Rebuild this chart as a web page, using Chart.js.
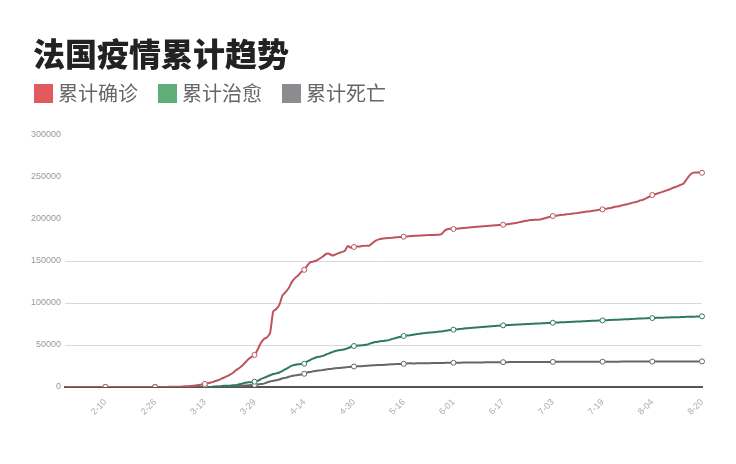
<!DOCTYPE html>
<html>
<head>
<meta charset="utf-8">
<script src="https://cdn.jsdelivr.net/npm/chart.js"></script>
<style>
  body { margin: 0; background: #fff; font-family: "Noto Sans CJK SC", "Noto Sans", sans-serif; }
  #wrap { position: relative; width: 736px; height: 464px; }
  #title { position: absolute; left: 33px; top: 36px; font-size: 32px; line-height: 32px; font-weight: 900; color: #222; }
  #legend { position: absolute; left: 34px; top: 83px; display: flex; font-size: 20px; line-height: 20px; color: #666; }
  .item { display: flex; align-items: center; margin-right: 20px; }
  .box { width: 19px; height: 19px; margin-right: 5px; }
</style>
</head>
<body>
<div id="wrap">
  <canvas id="c"></canvas>
  <div id="title">法国疫情累计趋势</div>
  <div id="legend"></div>
</div>
<script>
// 法国疫情累计数据 1-28 ~ 8-20（逐日）
const startDate = new Date(2020, 0, 28);
const dayCount = 206;
const dates = [];
for (let i = 0; i < dayCount; i++) {
  const d = new Date(startDate.getFullYear(), startDate.getMonth(), startDate.getDate() + i);
  dates.push((d.getMonth() + 1) + '-' + String(d.getDate()).padStart(2, '0'));
}

const seriesNames = ['累计确诊', '累计治愈', '累计死亡'];

const confirmed = [
  4,5,5,6,6,6,6,6,6,6,
  6,11,11,11,11,11,11,11,12,12,
  12,12,12,12,12,12,12,12,14,18,
  38,57,100,130,191,212,285,423,653,949,
  1126,1412,1784,2281,2876,3661,4499,5423,6633,7730,
  9134,10995,12612,14459,16689,19856,22304,25233,29155,32964,
  35800,38200,44550,52128,56989,59105,64338,89953,92839,98010,
  109069,112950,117749,124869,129654,132591,136779,139500,144800,148600,
  149300,150600,153000,155400,158300,158700,156500,157800,159300,160600,
  162000,167800,165800,166700,167300,167400,168000,168300,168400,171500,
  174200,175800,176600,177000,177300,177600,178000,178300,178600,178900,
  179200,179500,179800,180100,180300,180500,180700,180900,181000,181100,
  181300,181600,185500,187800,188300,188100,188500,188800,189200,189500,
  189900,190200,190500,190800,191100,191400,191700,192000,192400,192700,
  193000,193200,193500,194000,194600,195300,196000,196800,197600,198300,
  198700,199000,199200,199500,200500,201500,202500,203500,203900,204400,
  204900,205400,205800,206300,206700,207200,207800,208300,208800,209300,
  209900,210400,211000,211500,212000,212700,213500,214500,215000,216000,
  217000,217500,218800,219800,220500,222000,223000,224500,226500,228500,
  229500,230800,232000,233300,234500,236000,237500,238800,240500,242000,
  247000,252000,255000,255300,255300,255000
];

const recovered = [
  0,0,0,0,0,0,0,0,0,0,
  0,0,0,0,0,2,2,2,4,4,
  4,4,4,4,4,4,4,4,11,11,
  11,11,12,12,12,12,12,12,12,12,
  12,12,12,12,12,12,12,12,602,602,
  602,1587,1587,1587,2206,2206,3281,3900,4948,5700,
  5700,6300,7200,9400,10900,12400,14000,15400,16200,17300,
  19300,21200,23400,25500,26400,27200,27500,27700,30500,32400,
  34000,35500,36100,37000,38700,40100,41500,42900,43700,44300,
  44900,46200,47600,48800,49200,49500,49800,50200,51600,52700,
  53500,54100,54700,55200,55500,56800,57900,58900,59900,60700,
  61200,61700,62300,62900,63500,63900,64300,64600,64900,65300,
  65800,66200,66700,67300,67800,68200,68600,69000,69400,69800,
  70200,70500,70800,71100,71400,71700,72000,72300,72600,72900,
  73200,73400,73600,73800,74000,74200,74400,74600,74800,75000,
  75200,75400,75600,75700,75900,76100,76300,76500,76700,76900,
  77100,77200,77400,77600,77800,78000,78100,78300,78500,78700,
  78800,79000,79200,79300,79500,79700,79900,80000,80200,80400,
  80600,80700,80900,81100,81300,81500,81600,81800,82000,82100,
  82200,82400,82500,82600,82800,82900,83000,83100,83200,83400,
  83500,83600,83700,83800,84000,84100
];

const deaths = [
  0,0,0,0,0,0,0,0,0,0,
  0,0,0,0,0,0,0,0,1,1,
  1,1,1,1,1,1,1,1,1,2,
  2,2,2,2,3,4,4,6,9,16,
  19,30,33,48,61,79,91,127,148,175,
  264,372,450,562,674,860,1100,1331,1696,1995,
  2314,2606,3024,3523,4032,5387,6507,7560,8078,8911,
  10328,10869,12210,13197,13832,14393,14967,15729,17167,17920,
  18681,19323,19718,20265,20796,21340,21856,22245,22614,22856,
  23293,23660,24087,24376,24594,24760,24895,25201,25531,25809,
  25987,26230,26310,26380,26643,26991,27074,27425,27529,27625,
  28108,28239,28022,28132,28215,28289,28332,28367,28432,28530,
  28596,28662,28714,28771,28802,28833,28940,28943,29021,29065,
  29111,29142,29155,29209,29296,29319,29346,29407,29436,29439,
  29547,29575,29603,29617,29640,29663,29720,29734,29752,29778,
  29781,29813,29843,29861,29864,29875,29884,29893,29920,29936,
  29966,29979,29982,29996,30004,30007,30010,30029,30064,30092,
  30120,30138,30138,30152,30165,30172,30177,30182,30192,30209,
  30223,30238,30254,30265,30268,30268,30268,30294,30294,30296,
  30305,30308,30324,30327,30340,30354,30371,30388,30406,30410,
  30429,30434,30434,30468,30480,30503
];

const yTicks = [0, 50000, 100000, 150000, 200000, 250000, 300000];
const gridValues = [50000, 100000, 150000];

const lineColors = ['#bd545c', '#2f7a58', '#666666'];
const legendColors = ['#e05a5e', '#5fae78', '#8c8c90'];

// 每16天一个刻度，从 2-10 开始
const showTick = i => (i - 13) % 16 === 0;

function makeSet(k, data) {
  return {
    label: seriesNames[k],
    data,
    borderColor: lineColors[k],
    backgroundColor: lineColors[k],
    borderWidth: 2,
    tension: 0.2,
    fill: false,
    pointRadius: c => showTick(c.dataIndex) ? 2.5 : 0,
    pointBackgroundColor: '#fff',
    pointBorderColor: lineColors[k],
    pointBorderWidth: 1
  };
}

Chart.defaults.font.family = '"Liberation Sans", Arial, sans-serif';

new Chart(document.getElementById('c'), {
  type: 'line',
  data: {
    labels: dates,
    datasets: [makeSet(0, confirmed), makeSet(1, recovered), makeSet(2, deaths)]
  },
  options: {
    responsive: true,
    maintainAspectRatio: false,
    animation: false,
    layout: { padding: { left: 30, right: 34, top: 135, bottom: 47 } },
    plugins: { legend: { display: false }, tooltip: { enabled: false } },
    scales: {
      x: {
        grid: { display: false },
        border: { display: true, color: '#555', width: 2 },
        ticks: {
          autoSkip: false, maxRotation: 45, minRotation: 45,
          color: '#aaa', font: { size: 9 }, padding: 2,
          callback: (v, i) => showTick(i) ? dates[i] : null
        },
        afterFit: s => { s.height = 30; }
      },
      y: {
        min: 0, max: 300000,
        border: { display: false },
        grid: {
          drawTicks: false,
          color: c => gridValues.includes(c.tick.value) ? '#d9d9d9' : 'rgba(0,0,0,0)'
        },
        afterBuildTicks: s => { s.ticks = yTicks.map(v => ({ value: v })); },
        ticks: { color: '#999', font: { size: 9 }, padding: 4, callback: v => String(v) },
        afterFit: s => { s.width = 35; }
      }
    }
  }
});

// 图例
const legend = document.getElementById('legend');
seriesNames.forEach((name, k) => {
  const item = document.createElement('div');
  item.className = 'item';
  item.innerHTML = '<span class="box" style="background:' + legendColors[k] + '"></span><span>' + name + '</span>';
  legend.appendChild(item);
});
</script>
</body>
</html>
